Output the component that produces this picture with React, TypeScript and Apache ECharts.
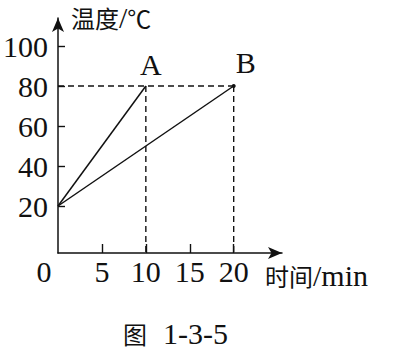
import React, { useEffect, useRef } from "react";
import * as echarts from "echarts";

// Axis ticks and labels
const timeTicks = [0, 5, 10, 15, 20];
const tempTicks = [20, 40, 60, 80, 100];

// Heating curves: [time (min), temperature (°C)]
const lineA = [
  [0, 20],
  [10, 80],
];
const lineB = [
  [0, 20],
  [20, 80],
];

// Reference level and end times of the two curves
const refTemp = 80;
const endTimeA = 10;
const endTimeB = 20;

const Y_MIN = -3.5;
const Y_MAX = 114;
const X_MAX = 25.5;

const LATIN = '"Liberation Serif", "Times New Roman", serif';
const CJK = '"Noto Sans CJK SC", "Liberation Serif", serif';
const INK = "#111";
const NUM_SIZE = 30;

const rich = {
  c: { fontFamily: CJK, fontSize: 24, fontWeight: "normal", color: INK },
  l: { fontFamily: LATIN, fontSize: 30, fontWeight: "normal", color: INK },
  n: {
    fontFamily: LATIN,
    fontSize: 30,
    fontWeight: "normal",
    color: INK,
    padding: [0, 0, 0, 16],
  },
};

export default function App() {
  const ref = useRef<HTMLDivElement>(null);

  useEffect(() => {
    if (!ref.current) return;
    const chart = echarts.init(ref.current, null, { renderer: "svg" });

    const dashed = { color: INK, width: 1.4, type: [6, 4] as number[] };
    const solid = { color: INK, width: 1.5 };
    const pointLabel = {
      show: true,
      position: "top",
      distance: 7,
      fontFamily: LATIN,
      fontSize: NUM_SIZE,
      color: INK,
    };

    chart.setOption({
      animation: false,
      backgroundColor: "#fff",
      title: {
        text: "{c|图}{n|1-3-5}",
        left: 123,
        top: 318,
        padding: 0,
        textStyle: { fontWeight: "normal", rich },
      },
      grid: { left: 55, top: 18, right: 114, bottom: 102 },
      xAxis: {
        type: "value",
        min: 0,
        max: X_MAX,
        name: "{c|时间}{l|/min}",
        nameLocation: "end",
        nameGap: -17,
        nameTextStyle: {
          align: "left",
          verticalAlign: "top",
          padding: [7, 0, 0, 0],
          rich,
        },
        axisLine: {
          onZero: false,
          lineStyle: { color: INK, width: 1.5 },
          symbol: ["none", "arrow"],
          symbolSize: [9, 14],
        },
        axisTick: {
          inside: true,
          length: 9,
          customValues: timeTicks.filter((v) => v > 0),
          lineStyle: { color: INK, width: 1.4 },
        },
        axisLabel: {
          customValues: timeTicks,
          margin: 3,
          fontFamily: LATIN,
          fontSize: NUM_SIZE,
          color: INK,
          formatter: (v: number) => (v === 0 ? "{o|0}" : String(v)),
          rich: {
            o: {
              fontFamily: LATIN,
              fontSize: NUM_SIZE,
              color: INK,
              padding: [0, 28, 0, 0],
            },
          },
        },
        splitLine: { show: false },
      },
      yAxis: {
        type: "value",
        min: Y_MIN,
        max: Y_MAX,
        name: "{c|温度}{l|/}{c|℃}",
        nameLocation: "end",
        nameGap: 1,
        nameTextStyle: {
          align: "left",
          verticalAlign: "middle",
          padding: [0, 0, 0, 13],
          rich,
        },
        axisLine: {
          onZero: false,
          lineStyle: { color: INK, width: 1.5 },
          symbol: ["none", "arrow"],
          symbolSize: [9, 14],
        },
        axisTick: {
          inside: true,
          length: 7,
          customValues: tempTicks,
          lineStyle: { color: INK, width: 1.4 },
        },
        axisLabel: {
          customValues: tempTicks,
          margin: 10,
          fontFamily: LATIN,
          fontSize: NUM_SIZE,
          color: INK,
        },
        splitLine: { show: false },
      },
      series: [
        {
          type: "line",
          data: [
            [0, refTemp],
            [endTimeB, refTemp],
          ],
          symbol: "none",
          lineStyle: dashed,
          silent: true,
        },
        {
          type: "line",
          data: [
            [endTimeA, refTemp],
            [endTimeA, Y_MIN],
          ],
          symbol: "none",
          lineStyle: dashed,
          silent: true,
        },
        {
          type: "line",
          data: [
            [endTimeB, refTemp],
            [endTimeB, Y_MIN],
          ],
          symbol: "none",
          lineStyle: dashed,
          silent: true,
        },
        {
          type: "line",
          symbol: "circle",
          symbolSize: 0,
          itemStyle: { color: INK },
          lineStyle: solid,
          data: lineA.map((p, i) =>
            i === lineA.length - 1
              ? { value: p, label: { ...pointLabel, formatter: "A", offset: [5, 0] } }
              : { value: p }
          ),
        },
        {
          type: "line",
          symbol: "circle",
          symbolSize: 0,
          itemStyle: { color: INK },
          lineStyle: solid,
          data: lineB.map((p, i) =>
            i === lineB.length - 1
              ? {
                  value: p,
                  symbolSize: 4,
                  label: { ...pointLabel, formatter: "B", offset: [12, 0] },
                }
              : { value: p }
          ),
        },
      ],
    });

    return () => chart.dispose();
  }, []);

  return (
    <div
      ref={ref}
      style={{ position: "absolute", left: 0, top: 0, width: 396, height: 355 }}
    />
  );
}
